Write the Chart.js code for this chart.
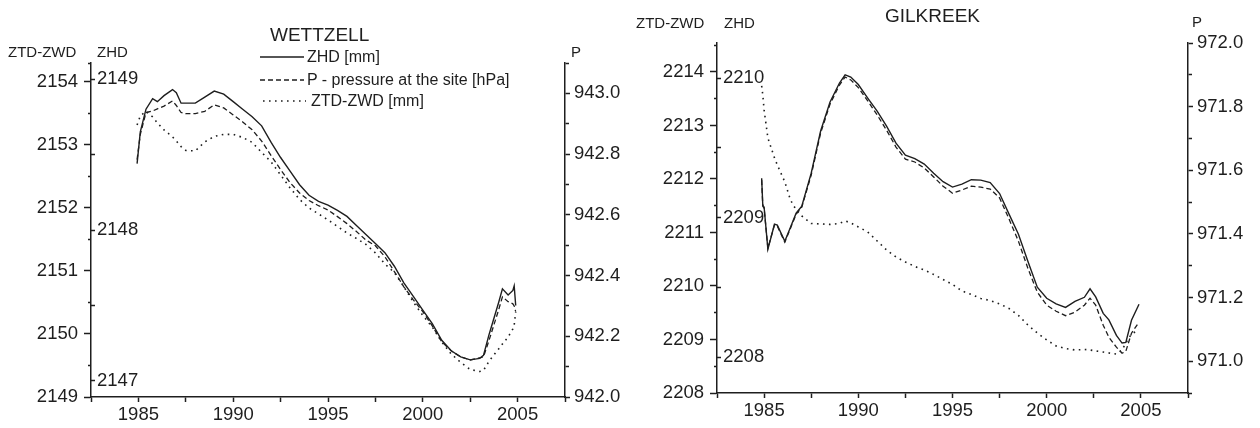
<!DOCTYPE html>
<html>
<head>
<meta charset="utf-8">
<script src="https://cdn.jsdelivr.net/npm/chart.js@4.4.1/dist/chart.umd.min.js"></script>
<style>
  body { margin: 0; background: #fff; }
  #wrap { position: relative; width: 1260px; height: 428px; overflow: hidden; }
  canvas { position: absolute; top: 0; }
  .lbl { position: absolute; font-family: 'Liberation Sans', Arial, sans-serif; color: #1e1e1e; line-height: 1; white-space: nowrap; }
  .t15 { font-size: 15px; }
  .t19 { font-size: 19px; }
  .t16 { font-size: 16px; }
</style>
</head>
<body>
<div id="wrap">
  <canvas id="wettzell" width="630" height="428" style="left:0;width:630px;height:428px"></canvas>
  <canvas id="gilkreek" width="630" height="428" style="left:630px;width:630px;height:428px"></canvas>

  <div class="lbl t15" style="left:8px;top:43.5px">ZTD-ZWD</div>
  <div class="lbl t15" style="left:97px;top:43.5px">ZHD</div>
  <div class="lbl t15" style="left:571px;top:43.5px">P</div>
  <div class="lbl t19" style="left:270px;top:25px">WETTZELL</div>

  <svg class="lbl" style="left:259px;top:54.5px" width="46" height="4"><line x1="1" y1="2" x2="45" y2="2" stroke="#1e1e1e" stroke-width="1.4"/></svg>
  <div class="lbl t16" style="left:307px;top:48.5px">ZHD [mm]</div>
  <svg class="lbl" style="left:259px;top:77.5px" width="46" height="4"><line x1="1" y1="2" x2="45" y2="2" stroke="#1e1e1e" stroke-width="1.3" stroke-dasharray="5 3"/></svg>
  <div class="lbl t16" style="left:307px;top:72px">P - pressure at the site [hPa]</div>
  <svg class="lbl" style="left:259px;top:98.5px" width="48" height="4"><line x1="4" y1="2" x2="47" y2="2" stroke="#1e1e1e" stroke-width="1.6" stroke-dasharray="1.6 4.4"/></svg>
  <div class="lbl t16" style="left:311px;top:93px">ZTD-ZWD [mm]</div>

  <div class="lbl t15" style="left:636px;top:14.5px">ZTD-ZWD</div>
  <div class="lbl t15" style="left:724px;top:14.5px">ZHD</div>
  <div class="lbl t15" style="left:1192px;top:13.5px">P</div>
  <div class="lbl t19" style="left:885px;top:5.5px">GILKREEK</div>
</div>
<script>
// WETTZELL
const yearsW = [1984.93, 1985.1, 1985.4, 1985.75, 1986.0, 1986.35, 1986.8, 1987.0, 1987.25, 1987.5,
  1988.0, 1988.5, 1989.0, 1989.5, 1990.0, 1990.5, 1991.0, 1991.5, 1992.0, 1992.5,
  1993.0, 1993.5, 1994.0, 1994.5, 1995.0, 1995.5, 1996.0, 1996.5, 1997.0, 1997.5,
  1998.0, 1998.5, 1999.0, 1999.5, 2000.0, 2000.5, 2001.0, 2001.5, 2002.0, 2002.5,
  2003.0, 2003.2, 2003.5, 2004.0, 2004.2, 2004.5, 2004.75, 2004.82, 2004.9];
const zhdW = [2148.44, 2148.65, 2148.80, 2148.87, 2148.85, 2148.89, 2148.93, 2148.91, 2148.84, 2148.84,
  2148.84, 2148.88, 2148.92, 2148.90, 2148.85, 2148.80, 2148.75, 2148.69, 2148.58, 2148.48,
  2148.39, 2148.30, 2148.23, 2148.19, 2148.165, 2148.13, 2148.09, 2148.03, 2147.97, 2147.91,
  2147.85, 2147.76, 2147.65, 2147.56, 2147.47, 2147.38, 2147.27, 2147.20, 2147.16, 2147.14,
  2147.15, 2147.17, 2147.31, 2147.52, 2147.61, 2147.57, 2147.60, 2147.63, 2147.50];
const pW = [942.782, 942.865, 942.937, 942.942, 942.949, 942.958, 942.975, 942.960, 942.937, 942.933,
  942.933, 942.941, 942.962, 942.952, 942.929, 942.906, 942.880, 942.843, 942.795, 942.749,
  942.706, 942.672, 942.647, 942.630, 942.616, 942.594, 942.571, 942.545, 942.517, 942.498,
  942.462, 942.413, 942.363, 942.320, 942.281, 942.234, 942.182, 942.152, 942.132, 942.122,
  942.129, 942.132, 942.188, 942.287, 942.330, 942.314, 942.307, 942.300, 942.281];
const ztdW = [2153.317, 2153.460, 2153.532, 2153.444, 2153.349, 2153.238, 2153.127, 2153.063, 2152.973, 2152.913,
  2152.905, 2153.048, 2153.135, 2153.167, 2153.167, 2153.119, 2153.040, 2152.881, 2152.730, 2152.524,
  2152.317, 2152.135, 2152.000, 2151.905, 2151.810, 2151.706, 2151.603, 2151.516, 2151.421, 2151.286,
  2151.111, 2150.976, 2150.751, 2150.508, 2150.294, 2150.111, 2149.873, 2149.683, 2149.548, 2149.437,
  2149.405, 2149.421, 2149.571, 2149.762, 2149.841, 2149.952, 2150.079, 2150.143, 2150.349];
const zhdTicksW = [2147, 2147.5, 2148, 2148.5, 2149];

// GILKREEK
const yearsG = [1984.87, 1984.93, 1985.0, 1985.2, 1985.55, 1985.7, 1986.1, 1986.4, 1986.7, 1987.0,
  1987.5, 1988.0, 1988.5, 1989.0, 1989.3, 1989.6, 1990.0, 1990.5, 1991.0, 1991.5,
  1992.0, 1992.5, 1993.0, 1993.5, 1994.0, 1994.5, 1995.0, 1995.5, 1996.0, 1996.5,
  1997.0, 1997.5, 1998.0, 1998.5, 1999.0, 1999.5, 2000.0, 2000.5, 2001.0, 2001.5,
  2002.0, 2002.3, 2002.6, 2003.0, 2003.3, 2003.7, 2004.0, 2004.2, 2004.5, 2004.9];
const zhdG = [2209.282, 2209.088, 2209.074, 2208.772, 2208.952, 2208.945, 2208.830, 2208.930, 2209.031, 2209.081,
  2209.318, 2209.620, 2209.828, 2209.964, 2210.022, 2210.007, 2209.953, 2209.856, 2209.763, 2209.655,
  2209.533, 2209.447, 2209.422, 2209.383, 2209.318, 2209.257, 2209.218, 2209.239, 2209.271, 2209.268,
  2209.250, 2209.172, 2209.024, 2208.880, 2208.686, 2208.500, 2208.421, 2208.381, 2208.356, 2208.399,
  2208.428, 2208.489, 2208.431, 2208.313, 2208.266, 2208.155, 2208.100, 2208.105, 2208.263, 2208.378];
const pG = [971.569, 971.487, 971.481, 971.355, 971.428, 971.425, 971.374, 971.418, 971.462, 971.484,
  971.585, 971.717, 971.808, 971.868, 971.893, 971.884, 971.860, 971.818, 971.774, 971.726,
  971.673, 971.635, 971.626, 971.607, 971.579, 971.550, 971.528, 971.538, 971.550, 971.547,
  971.541, 971.513, 971.447, 971.377, 971.292, 971.217, 971.176, 971.157, 971.143, 971.154,
  971.176, 971.198, 971.176, 971.113, 971.075, 971.044, 971.025, 971.031, 971.088, 971.123];
const ztdG = [2213.738, 2213.570, 2213.290, 2212.766, 2212.393, 2212.262, 2211.944, 2211.607, 2211.421, 2211.308,
  2211.168, 2211.159, 2211.150, 2211.168, 2211.215, 2211.178, 2211.103, 2211.009, 2210.841, 2210.673,
  2210.542, 2210.449, 2210.364, 2210.299, 2210.215, 2210.121, 2210.028, 2209.907, 2209.841, 2209.766,
  2209.729, 2209.664, 2209.579, 2209.449, 2209.271, 2209.121, 2208.991, 2208.879, 2208.832, 2208.804,
  2208.813, 2208.804, 2208.785, 2208.766, 2208.748, 2208.729, 2208.804, 2208.935, 2209.103, 2209.178];
const zhdTicksG = [2208, 2208.5, 2209, 2209.5, 2210];

const ink = '#1e1e1e';
const tickFont = { family: "'Liberation Sans', Arial, sans-serif", size: 18.5 };
const isWhole = v => Math.abs(v - Math.round(v)) < 1e-6;

/** one panel: three series, each on its own y axis */
function buildPanel(id, years, zhd, p, ztd, zhdTicks, g) {
  const pts = arr => years.map((x, i) => ({ x: x, y: arr[i] }));
  return new Chart(document.getElementById(id), {
    type: 'line',
    data: {
      datasets: [
        { label: 'ZHD [mm]', data: pts(zhd), yAxisID: 'yZHD', borderColor: ink, borderWidth: 1.4 },
        { label: 'P - pressure at the site [hPa]', data: pts(p), yAxisID: 'yP', borderColor: ink, borderWidth: 1.3, borderDash: [5, 3] },
        { label: 'ZTD-ZWD [mm]', data: pts(ztd), yAxisID: 'yZTD', borderColor: ink, borderWidth: 1.6, borderDash: [1.6, 4.4] }
      ]
    },
    options: {
      responsive: false,
      animation: false,
      layout: { padding: { top: g.top, left: 0, right: 0, bottom: 0 } },
      elements: { point: { radius: 0 }, line: { tension: 0, fill: false } },
      plugins: { legend: { display: false }, tooltip: { enabled: false } },
      scales: {
        x: {
          type: 'linear', position: 'bottom', min: 1982.5, max: 2007.5, bounds: 'data',
          grid: { drawOnChartArea: false, tickLength: 5, tickColor: ink, tickWidth: 1.5 },
          border: { color: ink, width: 1.5 },
          ticks: {
            stepSize: 2.5, autoSkip: false, maxRotation: 0, includeBounds: false, padding: 2,
            color: ink, font: tickFont,
            callback: v => Math.abs(v % 5) < 1e-6 ? String(v) : ''
          },
          afterFit: s => { s.height = g.xh; s.paddingLeft = 0; s.paddingRight = 0; }
        },
        yZTD: {
          type: 'linear', position: 'left', weight: 1, min: g.ztd[0], max: g.ztd[1], bounds: 'data',
          grid: {
            drawOnChartArea: false, tickLength: 7, tickColor: ink, tickWidth: 1.5,
            tickBorderDash: c => (c.tick && isWhole(c.tick.value)) ? [] : [0, 4, 4, 30]
          },
          border: { color: ink, width: 1.5 },
          ticks: {
            stepSize: 0.5, autoSkip: false, includeBounds: false, padding: 6,
            color: ink, font: tickFont,
            callback: v => isWhole(v) ? String(Math.round(v)) : ''
          },
          afterFit: s => { s.width = g.left; s.paddingTop = 0; s.paddingBottom = 0; }
        },
        yZHD: {
          type: 'linear', position: 'left', weight: 0, min: g.zhd[0], max: g.zhd[1], bounds: 'data',
          grid: { drawOnChartArea: false, tickLength: -4, tickColor: ink, tickWidth: 1.5 },
          border: { display: false },
          ticks: {
            autoSkip: false, mirror: true, padding: 6,
            color: ink, font: tickFont,
            callback: v => isWhole(v) ? String(Math.round(v)) : ''
          },
          afterBuildTicks: s => { s.ticks = zhdTicks.map(v => ({ value: v })); },
          afterFit: s => { s.width = 0.01; s.paddingTop = 0; s.paddingBottom = 0; }
        },
        yP: {
          type: 'linear', position: 'right', min: g.p[0], max: g.p[1], bounds: 'data',
          grid: {
            drawOnChartArea: false, tickLength: 5, tickColor: ink, tickWidth: 1.5,
            tickBorderDash: c => (c.tick && Math.round(c.tick.value * 10) % 2 === 0) ? [] : [3.5, 30]
          },
          border: { color: ink, width: 1.5 },
          ticks: {
            stepSize: 0.1, autoSkip: false, includeBounds: false, padding: 4,
            color: ink, font: tickFont,
            callback: v => Math.round(v * 10) % 2 === 0 ? v.toFixed(1) : ''
          },
          afterFit: s => { s.width = g.right; s.paddingTop = 0; s.paddingBottom = 0; }
        }
      }
    }
  });
}

buildPanel('wettzell', yearsW, zhdW, pW, ztdW, zhdTicksW, {
  top: 63, left: 91, right: 65, xh: 31,
  ztd: [2149, 2154.3], zhd: [2146.894, 2149.106], p: [942.0, 943.1]
});
buildPanel('gilkreek', yearsG, zhdG, pG, ztdG, zhdTicksG, {
  top: 43, left: 87, right: 72, xh: 35,
  ztd: [2208, 2214.54], zhd: [2207.742, 2210.251], p: [970.9, 972.0]
});
</script>
</body>
</html>
